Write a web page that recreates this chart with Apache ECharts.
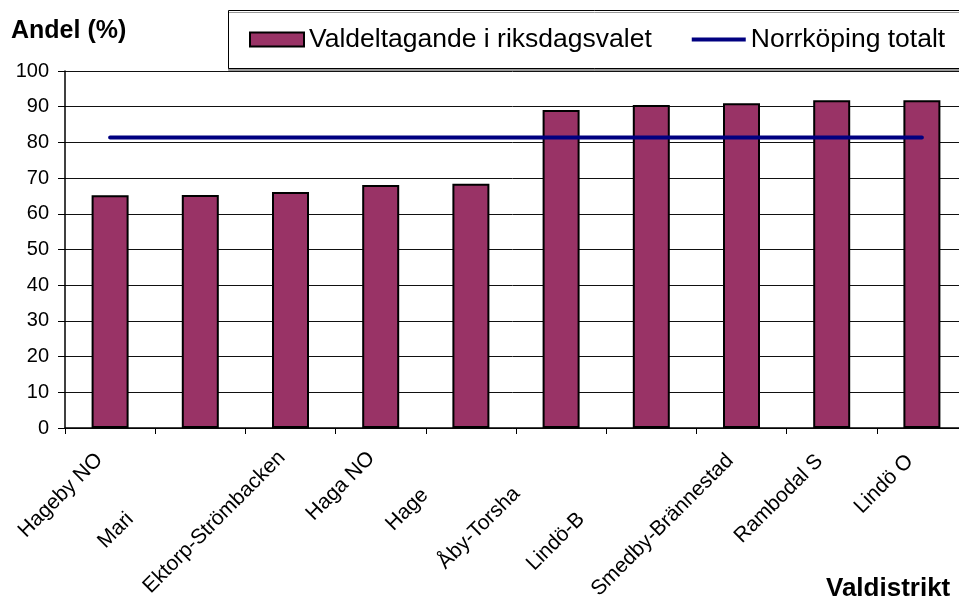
<!DOCTYPE html>
<html>
<head>
<meta charset="utf-8">
<script src="https://cdn.jsdelivr.net/npm/echarts@6/dist/echarts.min.js"></script>
<style>
html,body{margin:0;padding:0;background:#fff;}
#chart{width:959px;height:599px;}
</style>
</head>
<body>
<div id="chart"></div>
<script>
// valdistrikt (etiketterna är avklippta i originalet)
var districts = ['Hageby NO', 'Mari', 'Ektorp-Strömbacken', 'Haga NO', 'Hage', 'Åby-Torsha', 'Lindö-B', 'Smedby-Brännestad', 'Rambodal S', 'Lindö O'];
var turnout = [65.2, 65.3, 66.1, 68.1, 68.4, 89.1, 90.5, 91.0, 91.8, 91.8];
var cityTotal = [81.4, 81.4, 81.4, 81.4, 81.4, 81.4, 81.4, 81.4, 81.4, 81.4];

var FONT = '"Liberation Sans", Arial, sans-serif';

// förskjutning av etiketterna längs texten
var labelShift = [15, 99, 12, 13, 65, 63, 99, 16, 17, 17];
var rich = {};
for (var i = 0; i < labelShift.length; i++) {
    rich['l' + i] = {
        padding: [0, labelShift[i], 0, 0],
        fontSize: 21,
        fontFamily: FONT,
        color: '#000'
    };
}

var chart = echarts.init(document.getElementById('chart'));

var option = {
    animation: false,
    backgroundColor: '#fff',
    textStyle: { fontFamily: FONT },
    grid: {
        left: 65,
        top: 71,
        bottom: 171,
        right: -8,
        containLabel: false,
        outerBoundsMode: 'none'
    },
    legend: {
        left: 249,
        top: 26,
        padding: 0,
        itemWidth: 54,
        itemHeight: 14,
        itemGap: 40,
        textStyle: { fontSize: 26.5, color: '#000', fontFamily: FONT },
        data: [
            { name: 'Valdeltagande i riksdagsvalet', icon: 'rect' },
            { name: 'Norrköping totalt', icon: 'path://M0,0 L56,0 L56,4 L0,4 Z' }
        ]
    },
    graphic: [
        {
            type: 'rect',
            z: -1,
            shape: { x: 228.5, y: 10.5, width: 760, height: 58 },
            style: { fill: '#fff', stroke: '#000', lineWidth: 1, shadowColor: '#999', shadowOffsetY: 2, shadowOffsetX: 0, shadowBlur: 0 }
        },
        {
            type: 'text',
            left: 11,
            top: 19,
            style: { text: 'Andel (%)', font: 'bold 25px ' + FONT, fill: '#000' }
        },
        {
            type: 'text',
            left: 826,
            top: 576,
            style: { text: 'Valdistrikt', font: 'bold 26px ' + FONT, fill: '#000' }
        }
    ],
    xAxis: {
        type: 'category',
        data: districts,
        axisLine: { lineStyle: { color: '#000', width: 1.5 } },
        axisTick: { show: true, length: 6, lineStyle: { color: '#000' } },
        axisLabel: {
            interval: 0,
            rotate: 45,
            margin: 18,
            formatter: function (v, idx) { return '{l' + idx + '|' + v + '}'; },
            rich: rich
        }
    },
    yAxis: {
        type: 'value',
        min: 0,
        max: 100,
        interval: 10,
        axisLine: { show: true, lineStyle: { color: '#000', width: 1.5 } },
        axisTick: { show: true, length: 7, lineStyle: { color: '#000' } },
        axisLabel: { fontSize: 20, color: '#000', margin: 16, fontFamily: FONT },
        splitLine: { lineStyle: { color: '#111', width: 1 } }
    },
    series: [
        {
            name: 'Valdeltagande i riksdagsvalet',
            type: 'bar',
            data: turnout,
            barWidth: 37,
            itemStyle: { color: '#993366', borderColor: '#000', borderWidth: 2 }
        },
        {
            name: 'Norrköping totalt',
            type: 'line',
            data: cityTotal,
            symbol: 'none',
            z: 5,
            lineStyle: { color: '#000080', width: 4, cap: 'round' },
            itemStyle: { color: '#000080' }
        }
    ]
};
chart.setOption(option);
</script>
</body>
</html>
